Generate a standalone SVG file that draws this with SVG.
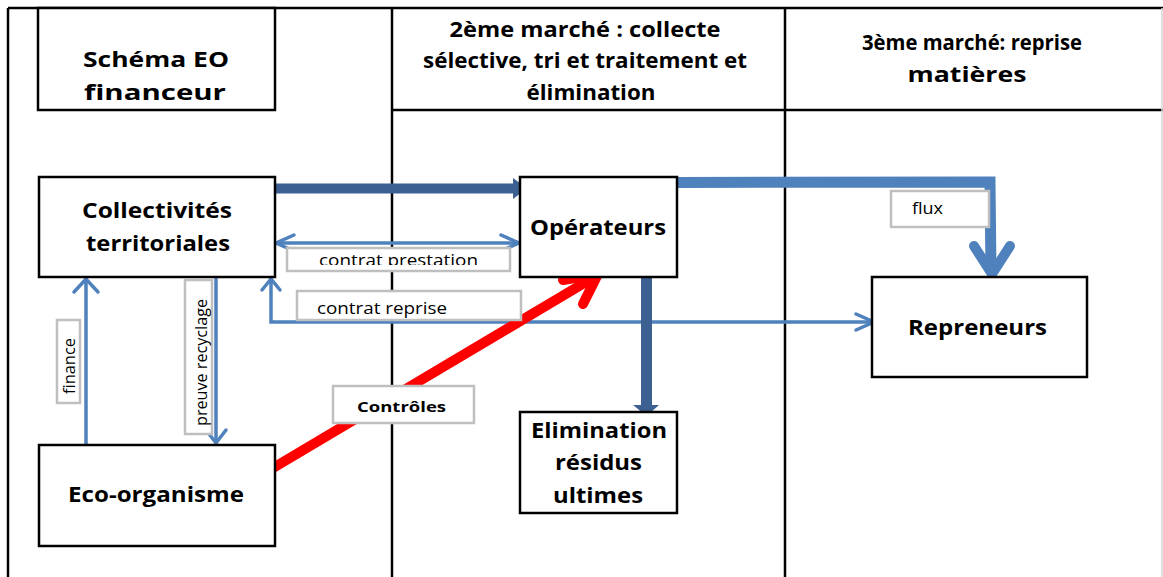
<svg xmlns="http://www.w3.org/2000/svg" width="1163" height="577" viewBox="0 0 1163 577">
<style>
.frame{stroke:#000;stroke-width:2.5;fill:none}
.box{fill:#fff;stroke:#000;stroke-width:2.5}
.lbl{fill:#fff;stroke:#BFBFBF;stroke-width:2.5}
.t{font-family:"Open Sans","Liberation Sans",sans-serif;font-weight:bold;font-size:21px;fill:#000;text-anchor:middle}
.s{font-family:"Open Sans","Liberation Sans",sans-serif;font-size:16px;fill:#000}
.thin{fill:none;stroke:#4F81BD;stroke-width:3.5;stroke-linecap:round;stroke-linejoin:miter}
.thick{fill:none;stroke:#4F81BD;stroke-width:11;stroke-linejoin:miter}
</style>
<defs>
<clipPath id="cpPrest"><rect x="287" y="248" width="223" height="17"/></clipPath>
</defs>
<rect width="1163" height="577" fill="#fff"/>
<g id="grid">
<line class="frame" x1="8" y1="8" x2="1163" y2="8"/>
<line class="frame" x1="8" y1="8" x2="8" y2="577"/>
<line class="frame" x1="392" y1="8" x2="392" y2="577"/>
<line class="frame" x1="785" y1="8" x2="785" y2="577"/>
<line class="frame" x1="392" y1="110" x2="1163" y2="110"/>
<line x1="1162" y1="8" x2="1162" y2="577" stroke="#D9D9D9" stroke-width="1.5"/>
</g>
<g id="header-schema">
<rect class="box" x="38" y="8" width="237" height="102"/>
<text class="t" x="156" y="67" textLength="146" lengthAdjust="spacingAndGlyphs">Schéma EO</text>
<text class="t" x="155" y="100" textLength="142" lengthAdjust="spacingAndGlyphs">financeur</text>
</g>
<g id="header-2">
<text class="t" x="585" y="37" textLength="271" lengthAdjust="spacingAndGlyphs">2ème marché : collecte</text>
<text class="t" x="585" y="68" textLength="324" lengthAdjust="spacingAndGlyphs">sélective, tri et traitement et</text>
<text class="t" x="591" y="100" textLength="129" lengthAdjust="spacingAndGlyphs">élimination</text>
</g>
<g id="header-3">
<text class="t" x="972" y="50" textLength="220" lengthAdjust="spacingAndGlyphs">3ème marché: reprise</text>
<text class="t" x="967" y="82" textLength="119" lengthAdjust="spacingAndGlyphs">matières</text>
</g>
<g id="connectors">
<line x1="273" y1="188.5" x2="514" y2="188.5" stroke="#3B6091" stroke-width="10"/>
<polygon points="513,178 527,188.5 513,199" fill="#3B6091"/>
<line class="thin" x1="276" y1="243" x2="519" y2="243"/>
<polyline class="thin" points="294,235 276,243 294,251"/>
<polyline class="thin" points="501,235 519,243 501,251"/>
<polyline class="thin" points="271,279 271,322 874,322"/>
<polyline class="thin" points="262,290 271,279 280,290"/>
<polyline class="thin" points="856,314 874,322 856,330"/>
<line class="thin" x1="86" y1="445" x2="86" y2="279"/>
<polyline class="thin" points="74,292 86,279 98,292"/>
<line class="thin" x1="216" y1="278" x2="216" y2="443"/>
<polyline class="thin" points="206,430 216,443 226,430"/>
<polyline class="thick" points="676,182.5 990,182 991,272"/>
<polyline fill="none" stroke="#4F81BD" stroke-width="10" stroke-linecap="round" stroke-linejoin="miter" points="974,246 992,274 1010,246"/>
<line x1="646.5" y1="273" x2="646.5" y2="406" stroke="#3B6091" stroke-width="11"/>
<polygon points="633,405 659,405 646.5,416" fill="#3B6091"/>
<line x1="273" y1="468" x2="596" y2="276" stroke="#FF0000" stroke-width="10"/>
<polyline fill="none" stroke="#FF0000" stroke-width="10" stroke-linecap="round" stroke-linejoin="miter" points="563,280 598,274 583,304"/>
</g>
<g id="node-collectivites">
<rect class="box" x="39" y="177" width="236" height="100"/>
<text class="t" x="157" y="218" textLength="150" lengthAdjust="spacingAndGlyphs">Collectivités</text>
<text class="t" x="158" y="251" textLength="144" lengthAdjust="spacingAndGlyphs">territoriales</text>
</g>
<g id="node-operateurs">
<rect class="box" x="520" y="177" width="157" height="100"/>
<text class="t" x="598" y="235" textLength="136" lengthAdjust="spacingAndGlyphs">Opérateurs</text>
</g>
<g id="node-repreneurs">
<rect class="box" x="872" y="277" width="215" height="100"/>
<text class="t" x="977.5" y="335" textLength="139" lengthAdjust="spacingAndGlyphs">Repreneurs</text>
</g>
<g id="node-elimination">
<rect class="box" x="520" y="412" width="157" height="101"/>
<text class="t" x="599" y="438" textLength="136" lengthAdjust="spacingAndGlyphs">Elimination</text>
<text class="t" x="598.5" y="470" textLength="87" lengthAdjust="spacingAndGlyphs">résidus</text>
<text class="t" x="598" y="503" textLength="90" lengthAdjust="spacingAndGlyphs">ultimes</text>
</g>
<g id="node-eco">
<rect class="box" x="39" y="445" width="236" height="101"/>
<text class="t" x="156" y="502" textLength="176" lengthAdjust="spacingAndGlyphs">Eco-organisme</text>
</g>
<g id="labels">
<g id="label-prestation">
<rect class="lbl" x="287" y="248" width="223" height="23"/>
<text class="s" x="319" y="266" textLength="159" lengthAdjust="spacingAndGlyphs" clip-path="url(#cpPrest)">contrat prestation</text>
</g>
<g id="label-reprise">
<rect class="lbl" x="297" y="291" width="224" height="29"/>
<text class="s" x="317" y="314" textLength="130" lengthAdjust="spacingAndGlyphs">contrat reprise</text>
</g>
<g id="label-flux">
<rect class="lbl" x="891" y="191" width="98" height="36"/>
<text class="s" x="912" y="214" textLength="31" lengthAdjust="spacingAndGlyphs">flux</text>
</g>
<g id="label-finance">
<rect class="lbl" x="57" y="320" width="23" height="83"/>
<text class="s" transform="translate(75,366) rotate(-90)" text-anchor="middle" textLength="56" lengthAdjust="spacingAndGlyphs">finance</text>
</g>
<g id="label-preuve">
<rect class="lbl" x="185" y="280" width="27" height="154"/>
<text class="s" transform="translate(207,362.5) rotate(-90)" text-anchor="middle" textLength="127" lengthAdjust="spacingAndGlyphs">preuve recyclage</text>
</g>
<g id="label-controles">
<rect class="lbl" x="333" y="386" width="141" height="37"/>
<text class="t" style="font-size:15px" x="401.5" y="412" textLength="89" lengthAdjust="spacingAndGlyphs">Contrôles</text>
</g>
</g>
</svg>
